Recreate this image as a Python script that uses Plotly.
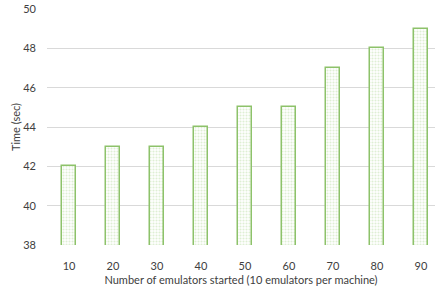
import plotly.graph_objects as go

categories = ["10", "20", "30", "40", "50", "60", "70", "80", "90"]
times = [42, 43, 43, 44, 45, 45, 47, 48, 49]
y_ticks = [38, 40, 42, 44, 46, 48, 50]

fig = go.Figure(go.Bar(
    x=list(range(len(categories))),
    y=times,
    width=0.32,
    marker=dict(
        color="white",
        line=dict(color="#8DC26A", width=1.5),
        pattern=dict(shape=".", fgcolor="#BFDDA9", bgcolor="white", size=3, solidity=0.4),
    ),
))

fig.update_layout(
    width=435, height=287,
    margin=dict(l=47, r=0, t=9, b=42),
    paper_bgcolor="white", plot_bgcolor="white",
    font=dict(family="Lato, Open Sans, sans-serif", size=11, color="#404040"),
    showlegend=False,
    bargap=0,
)
fig.update_xaxes(
    tickmode="array", tickvals=list(range(len(categories))), ticktext=categories,
    range=[-0.5, 8.32], showgrid=False, zeroline=False, showline=False,
    ticks="", ticklen=0, automargin=False, ticklabelstandoff=13,
    title=dict(text="Number of emulators started (10 emulators per machine)", standoff=5,
               font=dict(size=11, color="#404040")),
)
fig.update_yaxes(
    range=[38, 50], tickvals=y_ticks, showgrid=True, gridcolor="#D9D9D9", gridwidth=1,
    zeroline=False, showline=False, ticks="", ticklabelstandoff=10, automargin=False,
    title=dict(text="Time (sec)", standoff=0, font=dict(size=11, color="#404040")),
)

fig.write_html("out.html", config={"displayModeBar": False},
               post_script="document.body.style.margin='0';document.body.style.overflow='hidden';")
